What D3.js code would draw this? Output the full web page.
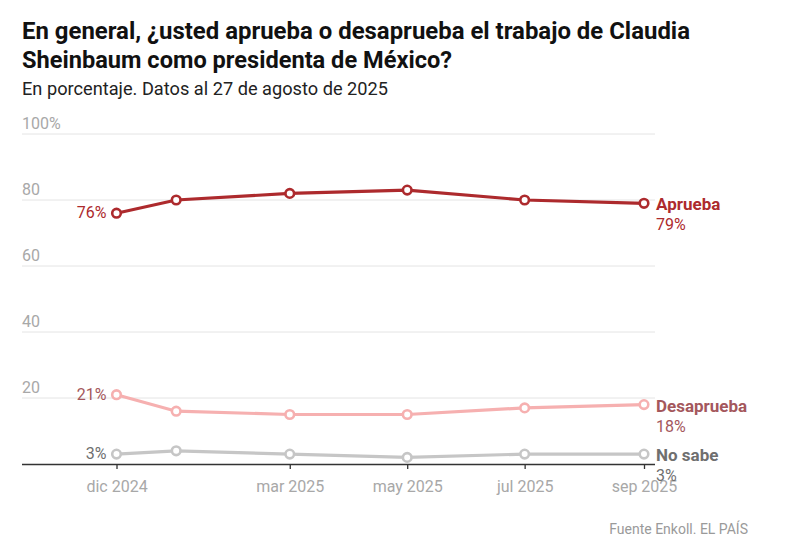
<!DOCTYPE html>
<html>
<head>
<meta charset="utf-8">
<script src="https://cdn.jsdelivr.net/npm/d3@7"></script>
<style>
  body { margin: 0; background: #fff; }
  svg { font-family: "Liberation Sans Narrow", "Roboto", sans-serif; }
</style>
</head>
<body>
<div id="chart"></div>
<script>
var dates = ["2024-12-01", "2025-01-01", "2025-03-01", "2025-05-01", "2025-07-01", "2025-09-01"];
var aprueba = [76, 80, 82, 83, 80, 79];
var desaprueba = [21, 16, 15, 15, 17, 18];
var noSabe = [3, 4, 3, 2, 3, 3];
var tickDates = ["2024-12-01", "2025-03-01", "2025-05-01", "2025-07-01", "2025-09-01"];
var tickLabels = ["dic 2024", "mar 2025", "may 2025", "jul 2025", "sep 2025"];
var yTicks = [0, 20, 40, 60, 80, 100];

var parse = d3.timeParse("%Y-%m-%d");

var series = [
    {name: "Aprueba", values: aprueba, line: "#ad2a2d", label: "#ad2a2d"},
    {name: "Desaprueba", values: desaprueba, line: "#f6b0b0", label: "#a4575c"},
    {name: "No sabe", values: noSabe, line: "#c6c6c6", label: "#6f6f6f"}
];

var width = 792, height = 553;

var svg = d3.select("#chart").append("svg")
    .attr("width", width)
    .attr("height", height);

var xScale = d3.scaleTime()
    .domain([parse(dates[0]), parse(dates[dates.length - 1])])
    .range([116.5, 644]);

var yScale = d3.scaleLinear()
    .domain([0, 100])
    .range([464, 134]);

// titulo
svg.append("text")
    .attr("x", 22).attr("y", 39)
    .attr("textLength", 668).attr("lengthAdjust", "spacingAndGlyphs")
    .style("font-size", "23px").style("font-weight", "bold").style("fill", "#111")
    .text("En general, ¿usted aprueba o desaprueba el trabajo de Claudia");
svg.append("text")
    .attr("x", 22).attr("y", 68)
    .attr("textLength", 430).attr("lengthAdjust", "spacingAndGlyphs")
    .style("font-size", "23px").style("font-weight", "bold").style("fill", "#111")
    .text("Sheinbaum como presidenta de México?");
svg.append("text")
    .attr("x", 22).attr("y", 95)
    .attr("textLength", 366).attr("lengthAdjust", "spacingAndGlyphs")
    .style("font-size", "18px").style("fill", "#222")
    .text("En porcentaje. Datos al 27 de agosto de 2025");

// rejilla
svg.append("g")
    .selectAll("line")
    .data(yTicks.filter(function(d){ return d > 0; }))
    .join("line")
    .attr("x1", 22).attr("x2", 655)
    .attr("y1", function(d){ return yScale(d); })
    .attr("y2", function(d){ return yScale(d); })
    .style("stroke", "#e4e4e4").style("stroke-width", 1);

svg.append("g")
    .selectAll("text")
    .data(yTicks.filter(function(d){ return d > 0; }))
    .join("text")
    .attr("x", 22)
    .attr("y", function(d){ return yScale(d) - 5; })
    .style("font-size", "16px").style("fill", "#a8a8a8")
    .text(function(d){ return d == 100 ? d + "%" : d; });

// eje x
var xAxis = svg.append("g")
    .attr("transform", "translate(0," + yScale(0) + ")")
    .call(d3.axisBottom(xScale)
        .tickValues(tickDates.map(parse))
        .tickFormat(function(d, i){ return tickLabels[i]; })
        .tickSize(5)
        .tickPadding(12));
xAxis.select(".domain").attr("d", "M22,0.5H655").style("stroke", "#333").style("stroke-width", 1.3);
xAxis.selectAll(".tick line").style("stroke", "#333").style("stroke-width", 1.3);
xAxis.selectAll(".tick text")
    .style("font-family", "\"Liberation Sans Narrow\", \"Roboto\", sans-serif")
    .style("font-size", "16px").style("fill", "#a8a8a8");

var line = d3.line()
    .x(function(d, i){ return xScale(parse(dates[i])); })
    .y(function(d){ return yScale(d); });

series.slice().reverse().forEach(function(s){
    var g = svg.append("g");
    g.append("path")
        .datum(s.values)
        .attr("d", line)
        .style("fill", "none")
        .style("stroke", s.line)
        .style("stroke-width", 3.2);
    g.selectAll("circle")
        .data(s.values)
        .join("circle")
        .attr("cx", function(d, i){ return xScale(parse(dates[i])); })
        .attr("cy", function(d){ return yScale(d); })
        .attr("r", 4.3)
        .style("fill", "#fff")
        .style("stroke", s.line)
        .style("stroke-width", 2.6);

    var first = s.values[0], last = s.values[s.values.length - 1];
    g.append("text")
        .attr("x", xScale(parse(dates[0])) - 10)
        .attr("y", yScale(first) + 5)
        .attr("text-anchor", "end")
        .style("font-size", "16px").style("fill", s.label)
        .text(first + "%");
    var lx = xScale(parse(dates[dates.length - 1])) + 12;
    g.append("text")
        .attr("x", lx)
        .attr("y", yScale(last) + 7)
        .style("font-size", "17px").style("font-weight", "bold").style("fill", s.label)
        .text(s.name);
    g.append("text")
        .attr("x", lx)
        .attr("y", yScale(last) + 27)
        .style("font-size", "16px").style("fill", s.label)
        .text(last + "%");
});

svg.append("text")
    .attr("x", 748).attr("y", 534)
    .attr("text-anchor", "end")
    .style("font-size", "14px").style("fill", "#9a9a9a")
    .text("Fuente Enkoll. EL PAÍS");
</script>
</body>
</html>
